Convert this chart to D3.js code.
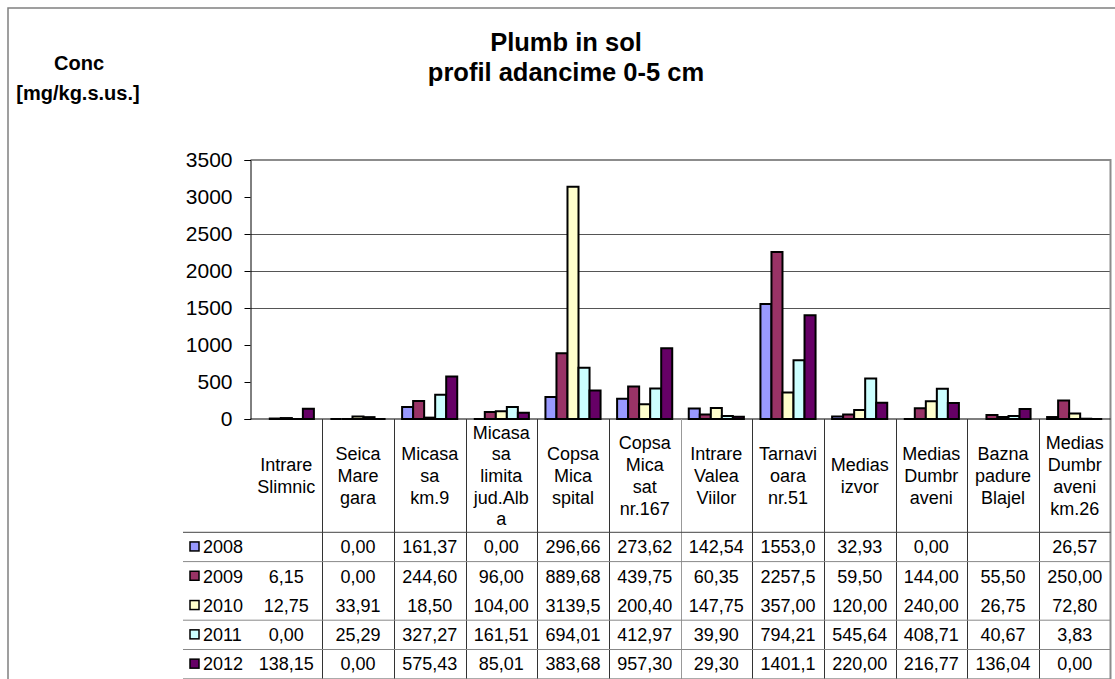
<!DOCTYPE html>
<html>
<head>
<meta charset="utf-8">
<script src="https://cdn.jsdelivr.net/npm/d3@7"></script>
<style>
  body { margin: 0; background: #fff; }
  text { font-family: "Liberation Sans", Arial, sans-serif; fill: #000; }
</style>
</head>
<body>
<div id="chart"></div>
<script>
// stations (line breaks as in the data table)
const categories = [
  'Intrare\nSlimnic', 'Seica\nMare\ngara', 'Micasa\nsa\nkm.9', 'Micasa\nsa\nlimita\njud.Alb\na',
  'Copsa\nMica\nspital', 'Copsa\nMica\nsat\nnr.167', 'Intrare\nValea\nViilor', 'Tarnavi\noara\nnr.51',
  'Medias\nizvor', 'Medias\nDumbr\naveni', 'Bazna\npadure\nBlajel', 'Medias\nDumbr\naveni\nkm.26'
];
const years = ['2008', '2009', '2010', '2011', '2012'];
const v2008 = [null, 0.00, 161.37, 0.00, 296.66, 273.62, 142.54, 1553.0, 32.93, 0.00, null, 26.57];
const v2009 = [6.15, 0.00, 244.60, 96.00, 889.68, 439.75, 60.35, 2257.5, 59.50, 144.00, 55.50, 250.00];
const v2010 = [12.75, 33.91, 18.50, 104.00, 3139.5, 200.40, 147.75, 357.00, 120.00, 240.00, 26.75, 72.80];
const v2011 = [0.00, 25.29, 327.27, 161.51, 694.01, 412.97, 39.90, 794.21, 545.64, 408.71, 40.67, 3.83];
const v2012 = [138.15, 0.00, 575.43, 85.01, 383.68, 957.30, 29.30, 1401.1, 220.00, 216.77, 136.04, 0.00];
const seriesValues = [v2008, v2009, v2010, v2011, v2012];
const colors = ['#9999FF', '#993366', '#FFFFCC', '#CCFFFF', '#660066'];
const yTicks = [0, 500, 1000, 1500, 2000, 2500, 3000, 3500];
const gridValues = [1500, 2000, 2500];

const W = 1115, H = 679;
const plotLeft = 250.5, plotRight = 1110.5, plotTop = 160, zeroY = 419;
const tableTop = 419, headerBottom = 532.3, rowH = 29.3;

const svg = d3.select('#chart').append('svg')
  .attr('width', W).attr('height', H);

svg.append('rect').attr('width', W).attr('height', H).attr('fill', '#fff');

// outer chart border
svg.append('path')
  .attr('d', `M8,${H} V8 H${W}`)
  .attr('fill', 'none').attr('stroke', '#808080').attr('stroke-width', 1.5);

// titles
const title = svg.append('text').attr('text-anchor', 'middle')
  .style('font-weight', 'bold').style('font-size', '25.5px');
title.append('tspan').attr('x', 566).attr('y', 51).text('Plumb in sol');
title.append('tspan').attr('x', 566).attr('y', 81).text('profil adancime 0-5 cm');

const yTitle = svg.append('text').attr('text-anchor', 'middle')
  .style('font-weight', 'bold').style('font-size', '20px');
yTitle.append('tspan').attr('x', 79).attr('y', 70).text('Conc');
yTitle.append('tspan').attr('x', 78).attr('y', 100).text('[mg/kg.s.us.]');

// scales
const x = d3.scaleBand().domain(d3.range(categories.length)).range([plotLeft, plotRight]);
const xs = d3.scaleBand().domain(years).range([0, x.bandwidth()]).paddingOuter(0.75);
const y = d3.scaleLinear().domain([0, 3500]).range([zeroY, plotTop]);

// gridlines
svg.append('g').selectAll('line').data(gridValues).join('line')
  .attr('x1', plotLeft).attr('x2', plotRight)
  .attr('y1', d => Math.round(y(d)) + 0.5).attr('y2', d => Math.round(y(d)) + 0.5)
  .attr('stroke', '#555').attr('stroke-width', 1);

// plot area top and right border
svg.append('path')
  .attr('d', `M${plotLeft},${plotTop} H${plotRight} V${H}`)
  .attr('fill', 'none').attr('stroke', '#8c8c8c').attr('stroke-width', 2);

// y axis
const yAxis = svg.append('g')
  .attr('transform', `translate(${plotLeft},0)`)
  .call(d3.axisLeft(y).tickValues(yTicks).tickSize(6).tickPadding(12).tickFormat(d3.format('d')));
yAxis.select('.domain').attr('stroke', '#000');
yAxis.selectAll('.tick line').attr('stroke', '#000');
yAxis.selectAll('.tick text')
  .style('font-size', '21px').style('font-family', '"Liberation Sans", Arial, sans-serif');

// bars
const bars = [];
seriesValues.forEach((vals, s) => {
  vals.forEach((v, i) => {
    if (v !== null) bars.push({ s, i, v });
  });
});
svg.append('g').selectAll('path').data(bars).join('path')
  .attr('d', d => {
    const x0 = x(d.i) + xs(years[d.s]);
    const w = xs.bandwidth();
    const y0 = y(0), y1 = y(d.v);
    return `M${x0},${y0} V${y1} H${x0 + w} V${y0} Z`;
  })
  .attr('fill', d => colors[d.s])
  .attr('stroke', '#000').attr('stroke-width', 2)
  .attr('stroke-linejoin', 'miter');

// zero line
svg.append('line')
  .attr('x1', plotLeft).attr('x2', plotRight)
  .attr('y1', zeroY).attr('y2', zeroY)
  .attr('stroke', '#000').attr('stroke-width', 1.2);

// ---- data table ----
const table = svg.append('g');

// column separators
table.selectAll('line.col').data(d3.range(1, categories.length)).join('line')
  .attr('class', 'col')
  .attr('x1', d => Math.round(x(d)) + 0.5).attr('x2', d => Math.round(x(d)) + 0.5)
  .attr('y1', tableTop).attr('y2', H)
  .attr('stroke', d => d === 6 ? '#999' : '#333').attr('stroke-width', 1);

// row separators (the one between 2009 and 2010 is not drawn in the reference)
const rowLines = [0, 1, 3, 4, 5];
table.selectAll('line.row').data(rowLines).join('line')
  .attr('class', 'row')
  .attr('x1', 183).attr('x2', plotRight)
  .attr('y1', d => headerBottom + d * rowH).attr('y2', d => headerBottom + d * rowH)
  .attr('stroke', d => d === 0 ? '#444' : '#888').attr('stroke-width', 1);

// header labels
const lineH = 21.7;
categories.forEach((c, i) => {
  const lines = c.split('\n');
  const cx = x(i) + x.bandwidth() / 2;
  const cy = (tableTop + headerBottom) / 2;
  const t = table.append('text').attr('text-anchor', 'middle').style('font-size', '18px');
  lines.forEach((ln, k) => {
    t.append('tspan').attr('x', cx)
      .attr('y', cy + (k - (lines.length - 1) / 2) * lineH)
      .attr('dy', '0.35em').text(ln);
  });
});

// legend keys and year labels
const fmt = v => d3.format('.2f')(v).replace('.', ',').slice(0, 6);
years.forEach((yr, s) => {
  const cy = headerBottom + (s + 0.5) * rowH;
  table.append('rect')
    .attr('x', 190).attr('y', cy - 5).attr('width', 9).attr('height', 9)
    .attr('fill', colors[s]).attr('stroke', '#000').attr('stroke-width', 1.5);
  table.append('text').attr('x', 203).attr('y', cy).attr('dy', '0.35em')
    .style('font-size', '18px').text(yr);
  seriesValues[s].forEach((v, i) => {
    if (v === null) return;
    table.append('text')
      .attr('x', x(i) + x.bandwidth() / 2).attr('y', cy).attr('dy', '0.35em')
      .attr('text-anchor', 'middle').style('font-size', '18px')
      .text(fmt(v));
  });
});
</script>
</body>
</html>
